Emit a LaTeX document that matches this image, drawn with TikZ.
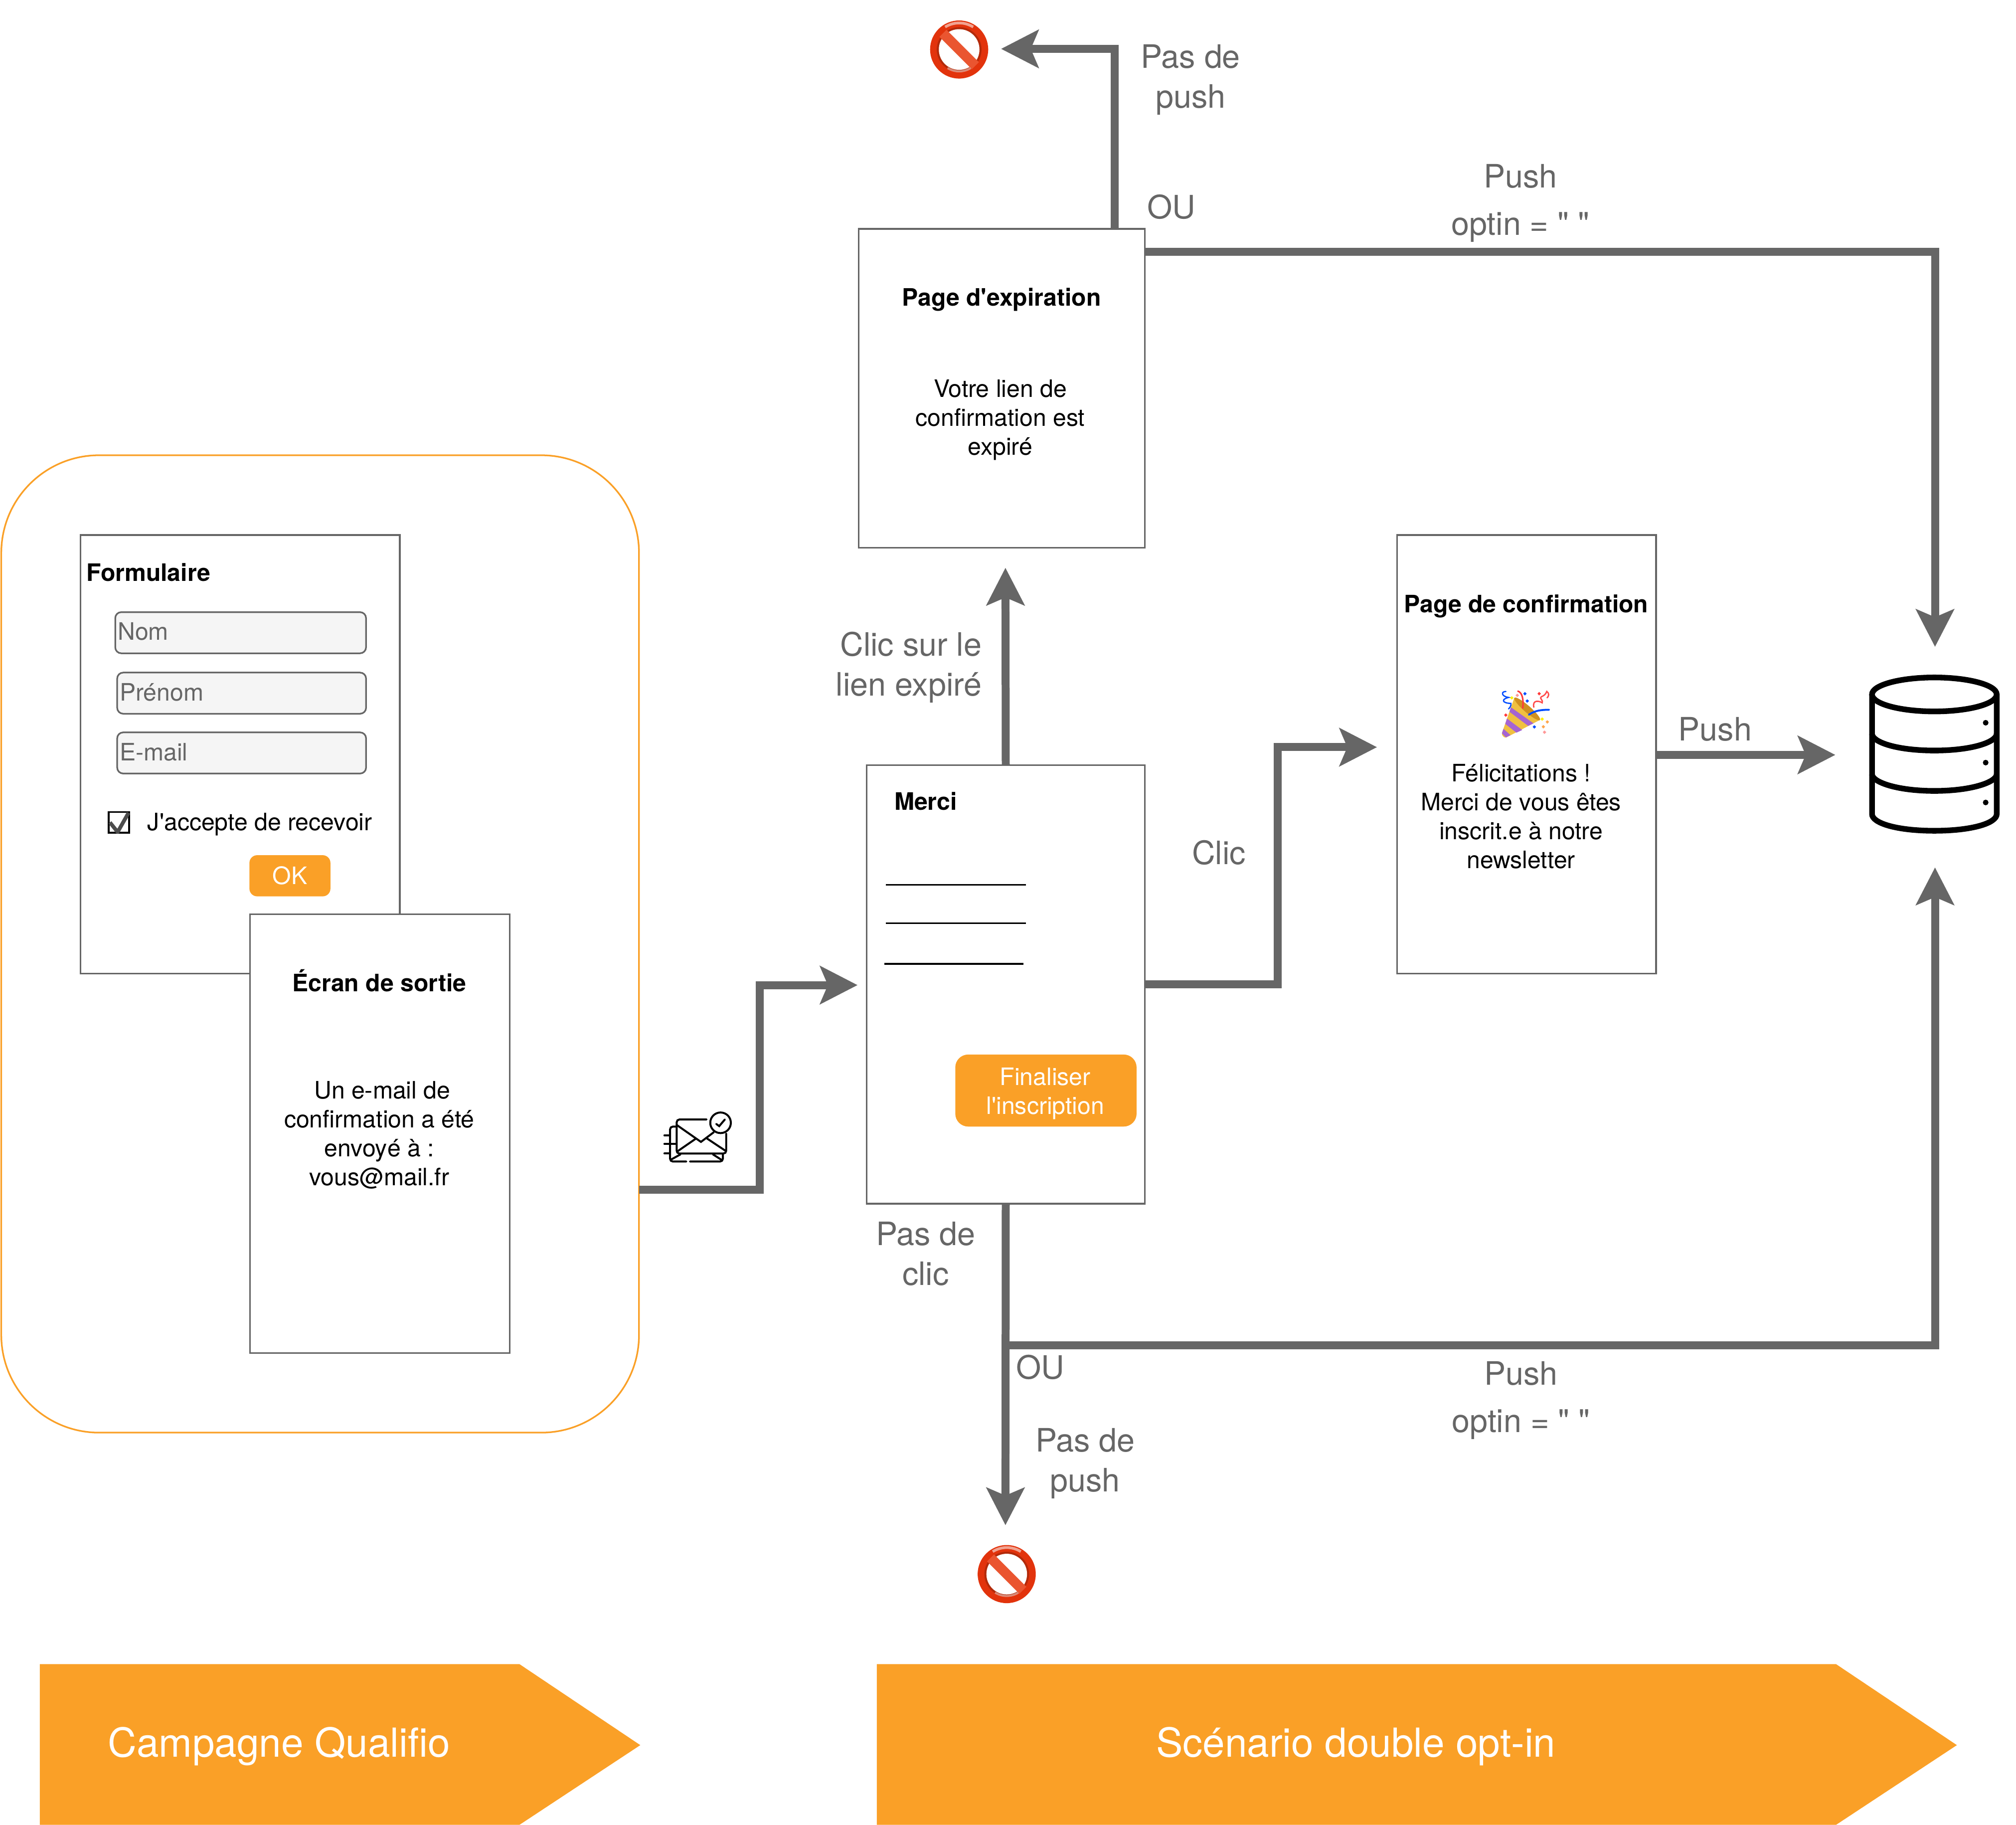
\documentclass[tikz,border=0pt]{standalone}
\usepackage{fontspec}
\setmainfont[Ligatures=TeXOff]{TeX Gyre Heros}
\usetikzlibrary{arrows.meta}

\definecolor{linegray}{HTML}{666666}
\definecolor{fieldgray}{HTML}{F5F5F5}
\definecolor{qualifio}{HTML}{FAA027}
\definecolor{stopred}{HTML}{E2330C}
\definecolor{stopdark}{HTML}{B32A0A}
\definecolor{stopbar}{HTML}{EA5530}
\definecolor{conegold}{HTML}{F0C040}
\definecolor{conemouth}{HTML}{D09020}
\definecolor{conestripe}{HTML}{A564D2}

\tikzset{
  pagebox/.style={draw=linegray, line width=0.95pt, fill=white, inner sep=0pt},
  field/.style={draw=linegray, line width=0.95pt, fill=fieldgray, rounded corners=3.5pt, anchor=west, minimum height=24pt, text depth=1.5pt, inner xsep=1.5pt, inner ysep=0pt, text=linegray, align=left, font=\fontsize{14}{16.8}\selectfont},
  button/.style={fill=qualifio, text=white, inner sep=0pt, align=center, font=\fontsize{14}{16.8}\selectfont},
  small/.style={inner sep=0.75pt, align=center, font=\fontsize{14}{16.8}\selectfont},
  title/.style={small, font=\fontsize{14}{16.8}\selectfont\bfseries},
  lbl/.style={inner sep=0.75pt, align=center, text=linegray, font=\fontsize{18.8}{23.25}\selectfont},
  flow/.style={draw=linegray, line width=4.65pt, -{Stealth[length=21.8pt,width=22pt,inset=4.5pt]}},
  banner/.style={fill=qualifio},
  bannertext/.style={inner sep=0.75pt, text=white, font=\fontsize{23.3}{28}\selectfont},
  stopring/.style={circle, fill=stopred, minimum size=33.9pt, inner sep=0pt},
  pics/stopmark/.style={code={
    \fill [stopdark] (0,0) circle (17.4);
    \fill [white] (0,0) circle (15.8);
    \draw [stopbar, line width=5.8pt] (-12.6,-12.6) -- (12.6,12.6);
    \draw [white, opacity=0.55, line width=1.6pt] (-10.9,-17.5) arc (238:302:20.6);
    \draw [white, opacity=0.45, line width=1.2pt] (-9,14.4) arc (122:58:17);
  }}
}

\begin{document}
\begin{tikzpicture}[x=0.75pt,y=0.75pt,yscale=-1,xscale=1]
\useasboundingbox (0,0) rectangle (1568,1419);

%Shape: Rounded Rect
\node [draw=qualifio, line width=0.95pt, rounded corners=57pt, minimum width=496*0.75pt, minimum height=760*0.75pt, inner sep=0pt] (campagne) at (249,734) {};

%Shape: Rect
\node [pagebox, minimum width=248.5*0.75pt, minimum height=341*0.75pt] (formulaire) at (186.75,586.5) {};
% Text Node
\node [title, anchor=west] (formulaireTitle) at (66,445) {Formulaire};
%Shape: Fields
\node [field, text width=143.3pt] (nom) at (89,492) {Nom};
\node [field, text width=142.2pt] (prenom) at (90.5,539) {Prénom};
\node [field, text width=142.2pt] (email) at (90.5,585.5) {E-mail};
%Shape: Checkbox
\node [draw=black, line width=1pt, minimum size=12pt, inner sep=0pt] (checkbox) at (92.5,639.5) {};
\draw [black!70, line width=2.2pt, line join=round] (85.5,639.5) -- (91.5,647) -- (100,632);
% Text Node
\node [small, anchor=west] (accepte) at (113.5,641) {J'accepte de recevoir};
\node [button, rounded corners=4.5pt, minimum width=63*0.75pt, minimum height=32*0.75pt] (ok) at (225.5,681) {OK};

%Shape: Rect
\node [pagebox, minimum width=202*0.75pt, minimum height=341*0.75pt] (sortie) at (295.5,881.5) {};
% Text Node
\node [title] (sortieTitle) at (295,762.5) {Écran de sortie};
\node [small] (sortieText) at (295,882.6) {\hspace*{3.5pt}Un e-mail de\\confirmation a été\\envoyé à :\\vous@mail.fr};

%Shape: Rect
\node [pagebox, minimum width=222.5*0.75pt, minimum height=248*0.75pt] (expiration) at (779.25,302) {};
% Text Node
\node [title] (expirationTitle) at (779,233) {Page d'expiration};
\node [small] (expirationText) at (778,326.5) {Votre lien de\\confirmation est\\expiré};

%Shape: Rect
\node [pagebox, minimum width=216.5*0.75pt, minimum height=341*0.75pt] (merci) at (782.25,765.5) {};
% Text Node
\node [title] (merciTitle) at (720,623) {Merci};
%Straight Lines
\coordinate (ligneA) at (689,688);
\coordinate (ligneB) at (689,718);
\coordinate (ligneC) at (688,749.5);
\draw [line width=0.95pt] (ligneA) -- ++(109,0);
\draw [line width=0.95pt] (ligneB) -- ++(109,0);
\draw [line width=0.95pt] (ligneC) -- ++(108,0);
\node [button, rounded corners=7.5pt, minimum width=141*0.75pt, minimum height=56*0.75pt] (finaliser) at (813.5,848) {};
\node [small, text=white] (finaliserText) at (813,850.5) {Finaliser\\l'inscription};

%Shape: Rect
\node [pagebox, minimum width=201.5*0.75pt, minimum height=341*0.75pt] (confirmation) at (1187.25,586.5) {};
% Text Node
\node [title] (confirmationTitle) at (1187,471.5) {Page de confirmation};
\node [small] (confirmationText) at (1183,634.8) {Félicitations !\\Merci de vous êtes\\inscrit.e à notre\\newsletter};

%Shape: Party popper
\begin{scope}[shift={(1124.5,519.6)},x=0.0969pt,y=0.0969pt]
\fill [conegold] (338,390) .. controls (336,404) and (350,420) .. (364,417) -- (565,312) -- (412,180) -- cycle;
\fill [conestripe] (392,235) -- (383,262) -- (496,347) -- (528,332) -- cycle;
\fill [conestripe] (368,303) -- (358,335) -- (425,388) -- (460,372) -- cycle;
\fill [conestripe] (347,365) -- (338,392) -- (362,416) -- (390,403) -- cycle;
\fill [conemouth, rotate around={41:(490,245)}] (490,245) ellipse (102 and 20);
\draw [blue!70!cyan, line width=0.75pt, line cap=round] (362,140) .. controls (330,140) and (335,170) .. (378,176) .. controls (335,185) and (335,210) .. (392,212) .. controls (395,225) and (385,238) .. (378,245);
\draw [red!70!pink, line width=0.9pt, line cap=round] (434,138) .. controls (460,145) and (470,190) .. (463,240);
\draw [red!60!pink, line width=0.8pt, line cap=round] (530,235) .. controls (520,190) and (560,195) .. (580,208) .. controls (590,195) and (560,180) .. (575,172) .. controls (590,165) and (600,160) .. (608,140) .. controls (625,150) and (620,170) .. (610,178);
\draw [blue!70!cyan, line width=1.1pt, line cap=round] (500,280) .. controls (535,255) and (575,250) .. (622,250);
\fill [yellow] (397,168) -- (408,178) -- (397,189) -- (387,178) -- cycle;
\fill [yellow] (580,296) -- (591,306) -- (580,317) -- (570,306) -- cycle;
\fill [pink!80!red] (430,153) -- (441,163) -- (430,174) -- (420,163) -- cycle;
\fill [pink!80!red] (594,375) -- (605,385) -- (594,396) -- (584,385) -- cycle;
\fill [blue!70!cyan] (476,143) -- (487,153) -- (476,164) -- (466,153) -- cycle;
\fill [blue!70!cyan] (490,187) -- (501,197) -- (490,208) -- (480,197) -- cycle;
\fill [blue!70!cyan] (533,343) -- (544,353) -- (533,364) -- (523,353) -- cycle;
\fill [red!70!pink] (361,272) -- (372,282) -- (361,293) -- (351,282) -- cycle;
\fill [red!70!pink] (562,143) -- (573,153) -- (562,164) -- (552,153) -- cycle;
\fill [orange!70] (611,313) -- (622,323) -- (611,334) -- (601,323) -- cycle;
\fill [orange!70] (587,342) -- (598,352) -- (587,363) -- (577,352) -- cycle;
\end{scope}

%Shape: Envelope
\begin{scope}[shift={(504.1,845.3)},x=0.0969pt,y=0.0969pt,line width=1.15pt,line cap=round]
\draw [rounded corners=1.6pt] (352,195) -- (172,195) -- (172,400) -- (470,400) -- (470,280);
\draw (172,228) -- (318,330) -- (395,272);
\draw (172,390) -- (285,312);
\draw (355,310) -- (468,385);
\draw (436,215) circle (62);
\draw (410,222) -- (428,235) -- (462,195);
\draw [rounded corners=1.6pt] (172,238) -- (132,238) -- (132,448) -- (230,448);
\draw [rounded corners=1.6pt] (252,448) -- (450,448) -- (450,405);
\draw (135,438) -- (195,405);
\draw (390,405) -- (445,440);
\draw (98,291) -- (130,291);
\draw (98,342) -- (170,342);
\draw (98,400) -- (130,400);
\end{scope}

%Shape: Database
\node [inner sep=0pt, minimum width=101.3*0.75pt, minimum height=124*0.75pt] (base) at (1504.5,586) {};
\begin{scope}[line width=3.3pt]
\draw (1504.5,540) ellipse (48.5 and 13.2);
\draw (1456,540) -- (1456,633) .. controls (1456,640) and (1475,646) .. (1504.5,646) .. controls (1534,646) and (1553,640) .. (1553,633) -- (1553,540);
\draw (1456,570.5) .. controls (1456,577) and (1475,583.6) .. (1504.5,583.6) .. controls (1534,583.6) and (1553,577) .. (1553,570.5);
\draw (1456,602) .. controls (1456,608) and (1475,615) .. (1504.5,615) .. controls (1534,615) and (1553,608) .. (1553,602);
\end{scope}
\fill (1544.4,562) circle (2.2);
\fill (1544.4,593) circle (2.2);
\fill (1544.4,624) circle (2.2);

%Shape: No entry
\node [stopring] (stopTop) at (746,38.5) {};
\pic [transform shape] at (stopTop) {stopmark};
\node [stopring] (stopBottom) at (783,1224) {};
\pic [transform shape] at (stopBottom) {stopmark};

%Connectors
\coordinate (campagneOut) at (497,925);
\coordinate (merciIn) at (667,766);
\coordinate (confirmationIn) at (1071,581);
\coordinate (expirationIn) at (782,441.5);
\coordinate (expirationOut) at (867,178);
\coordinate (expirationPush) at (890.5,196);
\coordinate (baseTop) at (1505,503);
\coordinate (baseBottom) at (1505,674.5);
\coordinate (baseLeft) at (1427.5,587);
\coordinate (stopIn) at (782,1186);
\coordinate (merciPush) at (782,1046);
\coordinate (stopTopIn) at (778.6,38);

\draw [flow] (campagneOut) -- ++(94,0) |- (merciIn);
\draw [flow] (merci.east) -- ++(102.5,0) |- (confirmationIn);
\draw [flow] (merci.north) -- (expirationIn);
\draw [flow] (merci.south) -- (stopIn);
\draw [flow] (merciPush) -| (baseBottom);
\draw [flow] (confirmation.east |- baseLeft) -- (baseLeft);
\draw [flow] (expirationOut) |- (stopTopIn);
\draw [flow] (expirationPush) -| (baseTop);

% Text Node
\node [lbl] (pasPushTop) at (926,62) {Pas de\\push};
\node [lbl] (ouTop) at (911,161) {OU};
\node [lbl] (pushTop) at (1182.5,158) {Push\\[4.5pt]optin = " "};
\node [lbl, align=right, anchor=east] (clicExpire) at (764.8,519) {Clic sur le\\lien expiré};
\node [lbl] (clic) at (948,663) {Clic};
\node [lbl] (pushMid) at (1334,567) {Push};
\node [lbl] (pasClic) at (720,975) {Pas de\\clic};
\node [lbl] (ouBottom) at (809,1063) {OU};
\node [lbl] (pasPushBottom) at (844,1138) {Pas de\\push};
\node [lbl] (pushBottom) at (1183,1089) {Push\\[4.5pt]optin = " "};

%Shape: Banners
\fill [banner] (31,1294) -- (404,1294) -- (498,1357) -- (404,1419) -- (31,1419) -- cycle;
\fill [banner] (682,1294) -- (1428,1294) -- (1522,1357) -- (1428,1419) -- (682,1419) -- cycle;
% Text Node
\node [bannertext] (bannerQualifio) at (217,1358) {Campagne Qualifio};
\node [bannertext] (bannerScenario) at (1054.5,1358) {Scénario double opt-in};

\end{tikzpicture}
\end{document}
